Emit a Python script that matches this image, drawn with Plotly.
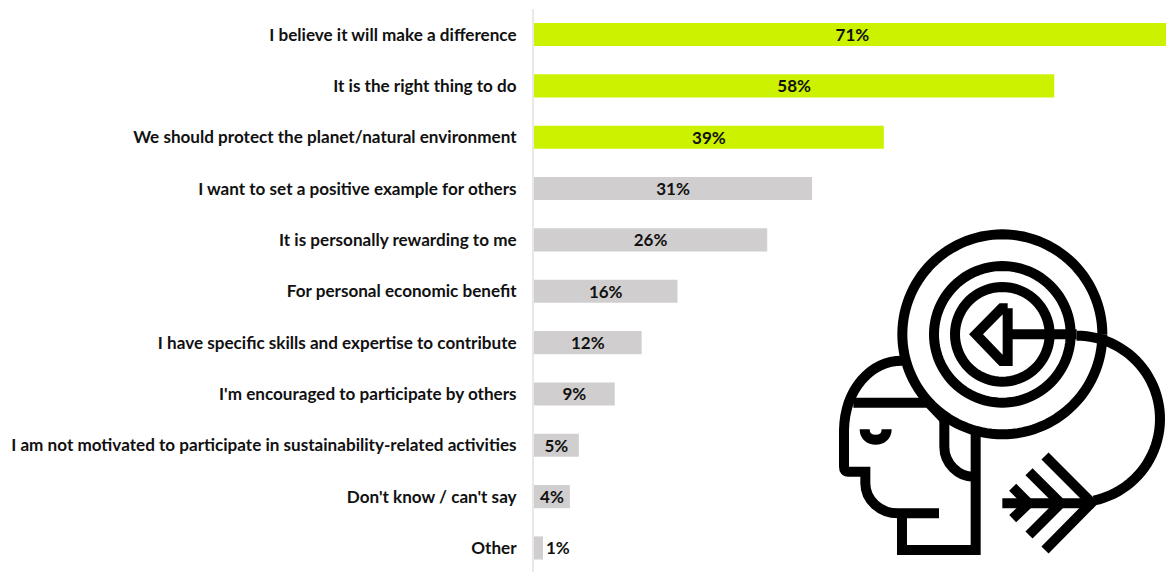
import math
import plotly.graph_objects as go

categories = [
    "I believe it will make a difference",
    "It is the right thing to do",
    "We should protect the planet/natural environment",
    "I want to set a positive example for others",
    "It is personally rewarding to me",
    "For personal economic benefit",
    "I have specific skills and expertise to contribute",
    "I'm encouraged to participate by others",
    "I am not motivated to participate in sustainability-related activities",
    "Don't know / can't say",
    "Other",
]
values = [71, 58, 39, 31, 26, 16, 12, 9, 5, 4, 1]
highlighted = 3  # leading answers drawn in lime

LIME = "#CCF200"
GREY = "#D0CECE"
W, H = 1166, 572
FONT = "Lato"

fig = go.Figure(
    go.Bar(
        x=values,
        y=categories,
        orientation="h",
        width=0.45,
        marker=dict(color=[LIME if i < highlighted else GREY for i in range(len(values))], line_width=0),
        text=[f"{v}%" for v in values],
        textposition=["inside" if v > 1 else "outside" for v in values],
        insidetextanchor="middle",
        constraintext="none",
        cliponaxis=True,
        textangle=0,
        textfont=dict(family=FONT, size=17, color="#111111", weight="bold"),
        hoverinfo="skip",
    )
)


# Line-art icon: a head with a target and an arrow, placed in paper coordinates
# on a local grid of 3 units per pixel.
def z(x, y):
    return f"{(830 + x / 3) / W:.5f},{1 - (220 + y / 3) / H:.5f}"


def arc(cx, cy, r, a0, a1, steps=48):
    pts = []
    for k in range(steps + 1):
        a = math.radians(a0 + (a1 - a0) * k / steps)
        pts.append(z(cx + r * math.cos(a), cy + r * math.sin(a)))
    return "M" + " L".join(pts)


def poly(*pts):
    return "M" + " L".join(z(x, y) for x, y in pts)


head_outline = (
    "M" + z(217, 422)
    + f" C{z(120, 422)} {z(45, 510)} {z(42, 630)}"
    + f" L{z(42, 740)}"
    + f" C{z(42, 750)} {z(46, 755)} {z(55, 755)}"
    + f" L{z(106, 755)} L{z(106, 790)}"
    + f" C{z(106, 840)} {z(150, 880)} {z(205, 880)}"
    + f" L{z(327, 880)}"
)
ear = "M" + z(343, 590) + f" L{z(343, 680)} C{z(343, 730)} {z(385, 770)} {z(430, 770)}"
eye = "M" + z(104, 628) + f" C{z(104, 670)} {z(170, 670)} {z(170, 628)}"

icon_paths = [
    # target rings
    arc(517, 343, 300, 0, 360, 120),
    arc(517, 343, 205, 0, 360, 96),
    arc(517, 343, 142, 0, 360, 72),
    # arrow head and shaft
    poly((533, 265), (515, 265), (438, 343), (515, 423), (533, 423), (533, 265)),
    poly((533, 343), (740, 343)),
    # bow
    arc(740, 597, 250, -90, 78),
    # arrow tail and fletching
    poly((517, 850), (790, 850)),
    poly((645, 708), (785, 848), (645, 990)),
    poly((597, 755), (692, 850), (597, 945)),
    poly((548, 802), (596, 850), (548, 896)),
    # head, neck, headband, ear and closed eye
    head_outline,
    poly((216, 880), (216, 990), (437, 990), (437, 630)),
    poly((70, 548), (295, 548), (340, 595)),
    ear,
    eye,
]

fig.update_layout(
    width=W,
    height=H,
    margin=dict(l=0, r=0, t=0, b=0),
    paper_bgcolor="white",
    plot_bgcolor="white",
    showlegend=False,
    font=dict(family=FONT, size=17, color="#111111"),
    xaxis=dict(
        domain=[534 / W, 1],
        range=[0, 632 / 8.97],
        visible=False,
        fixedrange=True,
    ),
    yaxis=dict(
        domain=[0, 1 - 9 / H],
        autorange=False,
        range=[10.468, -0.4966],
        type="category",
        categoryorder="array",
        categoryarray=categories,
        showline=True,
        linecolor="#E8E8E8",
        linewidth=2,
        ticks="outside",
        ticklen=12,
        tickcolor="rgba(0,0,0,0)",
        showgrid=False,
        tickfont=dict(family=FONT, size=17.1, color="#111111", weight="bold"),
        fixedrange=True,
    ),
    shapes=[
        dict(type="path", path=p, xref="paper", yref="paper", layer="above",
             line=dict(color="#000000", width=10), fillcolor="rgba(0,0,0,0)")
        for p in icon_paths
    ],
)

fig.write_html("out.html", config={"displayModeBar": False})
